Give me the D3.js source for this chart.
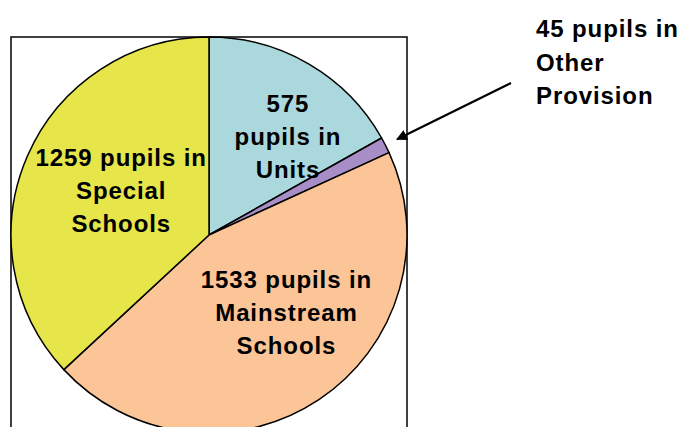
<!DOCTYPE html>
<html lang="en">
<head>
    <meta charset="UTF-8">
    <title>Pupils by provision</title>
    <script src="https://cdn.jsdelivr.net/npm/d3@7/dist/d3.min.js"></script>
    <style>
        html, body {
            margin: 0;
            padding: 0;
            background: #ffffff;
        }
        #chart {
            width: 681px;
            height: 427px;
            overflow: hidden;
        }
        text {
            font-family: "Liberation Sans", Arial, sans-serif;
            font-weight: bold;
            font-size: 24px;
            letter-spacing: 0.9px;
            fill: #000;
        }
    </style>
</head>
<body>
<div id="chart"></div>
<script>
    // data
    var categories = ['Units', 'Other Provision', 'Mainstream Schools', 'Special Schools'];
    var pupils = [575, 45, 1533, 1259];
    var colours = ['#aad8dc', '#a88ec6', '#fbc598', '#e6e54a'];
    // label lines for each slice (the small one gets its own outside label)
    var labelLines = [
        ['575', 'pupils in', 'Units'],
        ['45 pupils in', 'Other', 'Provision'],
        ['1533 pupils in', 'Mainstream', 'Schools'],
        ['1259 pupils in', 'Special', 'Schools']
    ];

    var width = 681, height = 427;
    var cx = 209, cy = 235, radius = 198;

    var svg = d3.select('#chart')
        .append('svg')
        .attr('width', width)
        .attr('height', height);

    var dataset = categories.map(function (c, i) {
        return {name: c, value: pupils[i], colour: colours[i], lines: labelLines[i]};
    });

    var pie = d3.pie()
        .sort(null)
        .value(function (d) {
            return d.value;
        });
    var arcs = pie(dataset);

    var arc = d3.arc()
        .innerRadius(0)
        .outerRadius(radius);

    // plot area frame
    svg.append('rect')
        .attr('x', cx - radius)
        .attr('y', cy - radius)
        .attr('width', radius * 2)
        .attr('height', radius * 2 + 20)
        .attr('fill', 'none')
        .attr('stroke', '#111')
        .attr('stroke-width', 1.6);

    var gpie = svg.append('g')
        .attr('transform', 'translate(' + cx + ',' + cy + ')');

    gpie.selectAll('path')
        .data(arcs)
        .enter()
        .append('path')
        .attr('d', arc)
        .attr('fill', function (d) {
            return d.data.colour;
        })
        .attr('stroke', '#000')
        .attr('stroke-width', 1.5)
        .attr('stroke-linejoin', 'round');

    // labels inside the slices (positions relative to the centroid)
    var inside = [
        {i: 0, dx: 24, dy: -4},
        {i: 2, dx: 17, dy: -13},
        {i: 3, dx: 12, dy: 0}
    ];
    var lineGap = 33;
    inside.forEach(function (o) {
        var d = arcs[o.i];
        var c = arc.centroid(d);
        var t = gpie.append('text')
            .attr('text-anchor', 'middle');
        var n = d.data.lines.length;
        d.data.lines.forEach(function (s, k) {
            t.append('tspan')
                .attr('x', c[0] * 1.1 + o.dx)
                .attr('y', c[1] * 1.1 + o.dy + (k - (n - 1) / 2) * lineGap + 8)
                .text(s);
        });
    });

    // outside label for the small slice with an arrow
    svg.append('defs')
        .append('marker')
        .attr('id', 'head')
        .attr('viewBox', '0 0 10 10')
        .attr('refX', 9)
        .attr('refY', 5)
        .attr('markerWidth', 5)
        .attr('markerHeight', 5)
        .attr('orient', 'auto')
        .append('path')
        .attr('d', 'M0,0 L10,5 L0,10 Z')
        .attr('fill', '#000');

    var small = arcs[1];
    var mid = (small.startAngle + small.endAngle) / 2;
    var tipR = radius + 13;
    svg.append('line')
        .attr('x1', 511)
        .attr('y1', 83)
        .attr('x2', cx + Math.sin(mid) * tipR)
        .attr('y2', cy - Math.cos(mid) * tipR)
        .attr('stroke', '#000')
        .attr('stroke-width', 2.2)
        .attr('marker-end', 'url(#head)');

    var outText = svg.append('text')
        .attr('text-anchor', 'start');
    small.data.lines.forEach(function (s, k) {
        outText.append('tspan')
            .attr('x', 536)
            .attr('y', 37 + k * 33.5)
            .text(s);
    });
</script>
</body>
</html>
